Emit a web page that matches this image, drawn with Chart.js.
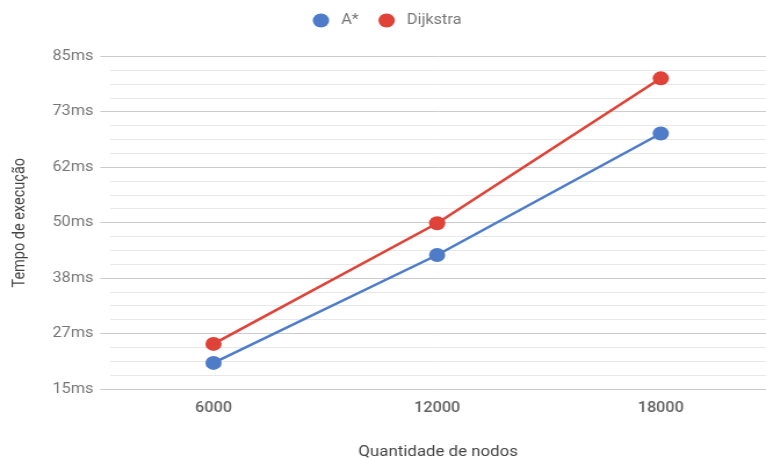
<!DOCTYPE html>
<html>
<head>
<meta charset="utf-8">
<script src="https://cdn.jsdelivr.net/npm/chart.js@4.4.1/dist/chart.umd.min.js"></script>
<style>
  html, body { margin: 0; padding: 0; background: #ffffff; overflow: hidden; }
  #frame { width: 766px; height: 458px; overflow: hidden; }
  /* the chart is laid out on a narrower canvas and widened to the frame */
  #wrap { width: 660px; height: 458px; transform: scaleX(1.16061); transform-origin: 0 0; }
  #chart { display: block; }
</style>
</head>
<body>
<div id="frame"><div id="wrap"><canvas id="chart" width="660" height="458"></canvas></div></div>
<script>
// Execution time (ms) of each algorithm by number of graph nodes
const nodeCounts = [6000, 12000, 18000];
const aStarMs = [20.5, 43.2, 68.8];
const dijkstraMs = [24.5, 49.9, 80.4];

// Y axis: labelled major lines, with unlabelled minor lines between them
const yTickLabels = ['15ms', '27ms', '38ms', '50ms', '62ms', '73ms', '85ms'];
const yMin = 15;
const yMax = 85;
const yMinorPerMajor = 4;

const BLUE = '#4e7cc8';
const RED = '#df4237';
const TEXT_GREY = '#757575';
const AXIS_GREY = '#636363';
const TITLE_GREY = '#444444';
const MAJOR_GRID = '#cccccc';
const MINOR_GRID = '#e8e8e8';
const FONT = 'Roboto';

// Legend band height above the plot, with the item row nudged right
const legendBand = {
  id: 'legendBand',
  afterInit(chart) {
    const legend = chart.legend;
    if (!legend) return;
    const baseFit = legend.fit;
    legend.fit = function () {
      baseFit.call(this);
      this.height = 53;
      if (this.lineWidths && this.lineWidths.length) this.lineWidths[0] -= 7;
    };
  }
};

const series = (label, values, color) => ({
  label,
  data: nodeCounts.map((x, i) => ({ x, y: values[i] })),
  borderColor: color,
  backgroundColor: color,
  borderWidth: 2.5,
  pointRadius: 7,
  pointHoverRadius: 7,
  pointBorderWidth: 0,
  pointBackgroundColor: color,
  tension: 0,
  fill: false
});

new Chart(document.getElementById('chart'), {
  type: 'line',
  data: {
    datasets: [
      series('A*', aStarMs, BLUE),
      series('Dijkstra', dijkstraMs, RED)
    ]
  },
  plugins: [legendBand],
  options: {
    responsive: false,
    animation: false,
    events: [],
    layout: { autoPadding: false, padding: { top: 3.5, left: 0, right: 0, bottom: 0 } },
    plugins: {
      tooltip: { enabled: false },
      legend: {
        position: 'top',
        labels: {
          usePointStyle: true,
          pointStyle: 'circle',
          boxWidth: 14,
          boxHeight: 10,
          padding: 10,
          color: TEXT_GREY,
          font: { family: FONT, size: 14 },
          generateLabels(chart) {
            const items = Chart.defaults.plugins.legend.labels.generateLabels(chart);
            return items.map((item, i) => {
              item.text = ' ' + item.text + (i === 0 ? '  ' : '');
              item.lineWidth = 0;
              item.pointStyle = 'circle';
              return item;
            });
          }
        }
      }
    },
    scales: {
      x: {
        type: 'linear',
        min: 3230,
        max: 20823,
        afterBuildTicks(scale) {
          scale.ticks = nodeCounts.map(v => ({ value: v }));
        },
        afterFit(scale) {
          scale.height = 69;
          scale.paddingLeft = 0;
          scale.paddingRight = 0;
        },
        ticks: {
          padding: 11,
          color: AXIS_GREY,
          font: { family: FONT, size: 14, weight: '500' },
          callback: v => String(v)
        },
        grid: { display: false, drawTicks: false },
        border: { display: false },
        title: {
          display: true,
          text: 'Quantidade de nodos',
          color: TITLE_GREY,
          font: { family: FONT, size: 14.5, lineHeight: 0.8 },
          padding: { top: 0, bottom: 0 }
        }
      },
      y: {
        min: yMin,
        max: yMax,
        afterBuildTicks(scale) {
          const n = (yTickLabels.length - 1) * yMinorPerMajor;
          scale.ticks = Array.from({ length: n + 1 }, (_, i) => ({ value: yMin + (yMax - yMin) * i / n }));
        },
        afterFit(scale) { scale.width = 95; },
        ticks: {
          autoSkip: false,
          padding: 6,
          color: TEXT_GREY,
          font: { family: FONT, size: 14 },
          callback: (v, i) => (i % yMinorPerMajor === 0 ? yTickLabels[i / yMinorPerMajor] : '')
        },
        grid: {
          color: ctx => (ctx.index % yMinorPerMajor === 0 ? MAJOR_GRID : MINOR_GRID),
          tickColor: ctx => (ctx.index % yMinorPerMajor === 0 ? MAJOR_GRID : 'rgba(0,0,0,0)'),
          tickLength: 8.6,
          lineWidth: 1
        },
        border: { display: false },
        title: {
          display: true,
          text: 'Tempo de execução',
          color: TITLE_GREY,
          font: { family: FONT, size: 14.5 },
          padding: { top: 8.5, bottom: 0 }
        }
      }
    }
  }
});
</script>
</body>
</html>
